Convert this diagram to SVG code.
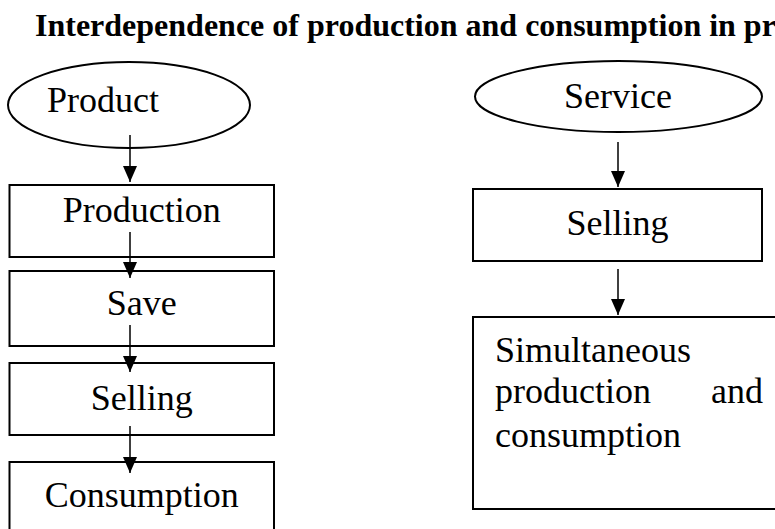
<svg xmlns="http://www.w3.org/2000/svg" width="775" height="529" viewBox="0 0 775 529">
<style>
.t{font-family:"Liberation Serif","Times New Roman",serif;font-size:36px;fill:#000}
.title{font-family:"Liberation Serif","Times New Roman",serif;font-size:32px;font-weight:bold;fill:#000}
.box{fill:#fff;stroke:#000;stroke-width:2}
.ell{fill:#fff;stroke:#000;stroke-width:2}
.c{stroke:#000;stroke-width:1.5;fill:none;marker-end:url(#ah)}
</style>
<defs>
<marker id="ah" markerUnits="userSpaceOnUse" markerWidth="16" markerHeight="18" refX="16" refY="7" orient="auto">
<path d="M0,0 L16,7 L0,14 Z" fill="#000"/>
</marker>
</defs>
<rect width="775" height="529" fill="#fff"/>
<text class="title" x="35" y="36">Interdependence of production and consumption in pr</text>
<g id="product"><ellipse class="ell" cx="129" cy="105" rx="121" ry="43"/><text class="t" x="47" y="112">Product</text></g>
<g id="production"><rect class="box" x="9.5" y="185" width="264.5" height="72"/><text class="t" x="141.75" y="222" text-anchor="middle">Production</text></g>
<g id="save"><rect class="box" x="9.5" y="271" width="264.5" height="75"/><text class="t" x="141.75" y="315" text-anchor="middle">Save</text></g>
<g id="selling-left"><rect class="box" x="9.5" y="363" width="264.5" height="72"/><text class="t" x="141.75" y="410" text-anchor="middle">Selling</text></g>
<g id="consumption"><rect class="box" x="9.5" y="462" width="264.5" height="80"/><text class="t" x="141.75" y="507" text-anchor="middle">Consumption</text></g>
<g id="service"><ellipse class="ell" cx="618.5" cy="96.5" rx="143.5" ry="35.5"/><text class="t" x="618" y="108" text-anchor="middle">Service</text></g>
<g id="selling-right"><rect class="box" x="473" y="189" width="289" height="72"/><text class="t" x="617.5" y="235" text-anchor="middle">Selling</text></g>
<g id="simultaneous"><rect class="box" x="473" y="317" width="320" height="192"/>
<text class="t"><tspan x="495" y="362">Simultaneous</tspan><tspan x="495" y="403">production</tspan><tspan x="763" y="403" text-anchor="end">and</tspan><tspan x="495" y="447">consumption</tspan></text></g>
<g id="connectors">
<line class="c" x1="130" y1="135" x2="130" y2="182"/>
<line class="c" x1="130" y1="232" x2="130" y2="278"/>
<line class="c" x1="130" y1="325" x2="130" y2="372"/>
<line class="c" x1="130" y1="426" x2="130" y2="473"/>
<line class="c" x1="618" y1="142" x2="618" y2="187"/>
<line class="c" x1="618" y1="269" x2="618" y2="315"/>
</g>
</svg>
